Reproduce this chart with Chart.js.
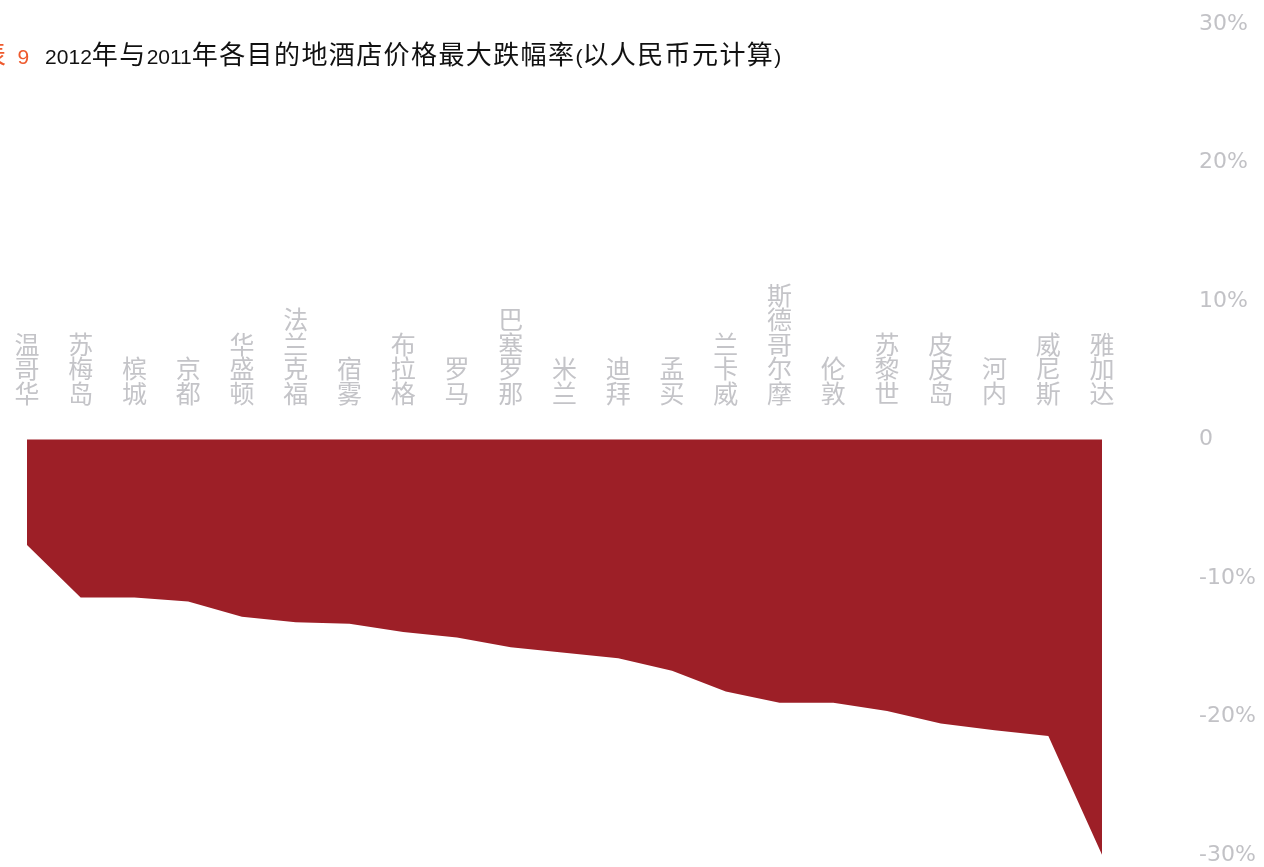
<!DOCTYPE html>
<html>
<head>
<meta charset="utf-8">
<script src="https://cdn.jsdelivr.net/npm/chart.js@4/dist/chart.umd.min.js"></script>
<style>
  html, body { margin: 0; padding: 0; background: #ffffff; overflow: hidden; }
  #wrap { position: absolute; left: 0; top: 0; width: 1264px; height: 867px; }
  #title {
    position: absolute; left: -20px; top: 38px; white-space: nowrap;
    font-family: "Liberation Sans", "Noto Sans CJK SC", sans-serif;
    font-size: 21px; color: #111111; line-height: 30px;
  }
  #title .cjk { font-family: "Noto Sans CJK SC", sans-serif; font-size: 26px; letter-spacing: 1.4px; }
  #title .red { color: #ee5a2e; }
</style>
</head>
<body>
<div id="wrap"><canvas id="c"></canvas></div>
<div id="title"><span class="red cjk">表</span><span class="red" style="margin-left:10px">9</span><span style="margin-left:16px">2012</span><span class="cjk">年与</span>2011<span class="cjk">年各目的地酒店价格最大跌幅率</span>(<span class="cjk">以人民币元计算</span>)</div>
<script>
const cities = ['温哥华','苏梅岛','槟城','京都','华盛顿','法兰克福','宿雾','布拉格','罗马','巴塞罗那','米兰','迪拜','孟买','兰卡威','斯德哥尔摩','伦敦','苏黎世','皮皮岛','河内','威尼斯','雅加达'];
const declines = [-7.6, -11.4, -11.4, -11.7, -12.8, -13.2, -13.3, -13.9, -14.3, -15.0, -15.4, -15.8, -16.7, -18.2, -19.0, -19.0, -19.6, -20.5, -21.0, -21.4, -30.0];
const yTickValues = [30, 20, 10, 0, -10, -20, -30];

new Chart(document.getElementById('c'), {
  type: 'line',
  data: {
    labels: cities.map(n => Array.from(n)),
    datasets: [{
      data: declines,
      fill: 'origin',
      backgroundColor: '#9d1f27',
      borderWidth: 0,
      pointRadius: 0,
      tension: 0
    }]
  },
  options: {
    responsive: true,
    maintainAspectRatio: false,
    animation: false,
    events: [],
    layout: { padding: { top: 24, bottom: 12, left: 0, right: 0 } },
    plugins: { legend: { display: false }, tooltip: { enabled: false }, title: { display: false } },
    scales: {
      x: {
        type: 'category',
        offset: true,
        position: { y: 0 },
        grid: { display: false, drawTicks: false },
        border: { display: false },
        ticks: {
          autoSkip: false,
          maxRotation: 0,
          minRotation: 0,
          crossAlign: 'far',
          padding: -144,
          color: '#c4c4c8',
          font: { family: '"Noto Sans CJK SC", sans-serif', size: 25, lineHeight: 0.976 }
        }
      },
      y: {
        position: 'right',
        min: -30,
        max: 30,
        grid: { display: false, drawTicks: false },
        border: { display: false },
        afterFit: s => { s.width = 135; s.paddingTop = 0; s.paddingBottom = 0; },
        afterBuildTicks: s => { s.ticks = yTickValues.map(v => ({ value: v })); },
        ticks: {
          crossAlign: 'near',
          padding: 70,
          color: '#c2c2c6',
          font: { family: '"DejaVu Sans", sans-serif', size: 22 },
          callback: v => (v === 0 ? '0' : v + '%')
        }
      }
    }
  }
});
</script>
</body>
</html>
